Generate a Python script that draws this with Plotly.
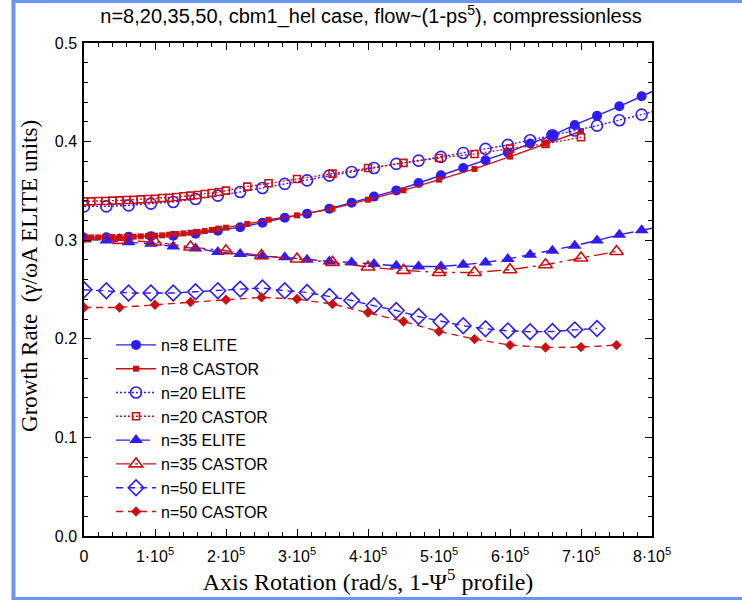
import plotly.graph_objects as go

# ---------------- data ----------------
elite_x = [0, 31416, 62832, 94248, 125664, 157080, 188496, 219911, 251327, 282743,
           314159, 345575, 376991, 408407, 439823, 471239, 502655, 534071, 565487,
           596903, 628319, 659734, 691150, 722566, 753982, 785398, 816814]

castor_x_a = [0, 10000, 20000, 30000, 40000, 50000, 60000, 70000, 80000, 90000, 100000,
              110000, 120000, 130000, 140000, 150000, 160000, 170000, 180000, 190000,
              200000, 230000, 260000, 300000, 350000, 400000, 450000, 500000, 550000,
              600000, 650000, 700000]

castor_x_b = [0, 50000, 100000, 150000, 200000, 250000, 300000, 350000, 400000, 450000,
              500000, 550000, 600000, 650000, 700000, 750000]

n8_elite = [0.3025, 0.3030, 0.3036, 0.3041, 0.3046, 0.3066, 0.3096, 0.3132, 0.3178,
            0.3228, 0.3269, 0.3320, 0.3381, 0.3442, 0.3505, 0.3580, 0.3658, 0.3733,
            0.3810, 0.3891, 0.3980, 0.4064, 0.4169, 0.4261, 0.4358, 0.4460, 0.4561]

n8_castor = [0.3025, 0.3028, 0.3028, 0.3030, 0.3032, 0.3032, 0.3034, 0.3036, 0.3039,
             0.3043, 0.3046, 0.3049, 0.3056, 0.3063, 0.3069, 0.3076, 0.3083, 0.3093,
             0.3104, 0.3117, 0.3127, 0.3165, 0.3208, 0.3252, 0.3320, 0.3411, 0.3506,
             0.3614, 0.3723, 0.3848, 0.3980, 0.4105]

n20_elite = [0.3343, 0.3343, 0.3353, 0.3371, 0.3388, 0.3418, 0.3452, 0.3489, 0.3530,
             0.3571, 0.3607, 0.3655, 0.3692, 0.3733, 0.3774, 0.3807, 0.3845, 0.3885,
             0.3926, 0.3967, 0.4013, 0.4064, 0.4112, 0.4162, 0.4216, 0.4274, 0.4335]

n20_castor = [0.3394, 0.3394, 0.3398, 0.3398, 0.3401, 0.3404, 0.3408, 0.3411, 0.3414,
              0.3418, 0.3421, 0.3428, 0.3431, 0.3438, 0.3445, 0.3452, 0.3458, 0.3469,
              0.3479, 0.3489, 0.3503, 0.3543, 0.3577, 0.3621, 0.3675, 0.3733, 0.3784,
              0.3834, 0.3875, 0.3929, 0.3977, 0.4044]

n35_elite = [0.3012, 0.2998, 0.2978, 0.2964, 0.2937, 0.2917, 0.2880, 0.2860, 0.2836,
             0.2826, 0.2802, 0.2785, 0.2775, 0.2758, 0.2741, 0.2734, 0.2734, 0.2751,
             0.2775, 0.2809, 0.2853, 0.2893, 0.2944, 0.2998, 0.3056, 0.3100, 0.3145]

n35_castor = [0.3015, 0.2998, 0.2982, 0.2931, 0.2893, 0.2843, 0.2809, 0.2775, 0.2728,
              0.2694, 0.2673, 0.2673, 0.2701, 0.2751, 0.2819, 0.2886]

n50_elite = [0.2497, 0.2487, 0.2464, 0.2464, 0.2464, 0.2477, 0.2487, 0.2504, 0.2515,
             0.2487, 0.2470, 0.2430, 0.2389, 0.2335, 0.2287, 0.2226, 0.2176, 0.2132,
             0.2102, 0.2081, 0.2071, 0.2074, 0.2091, 0.2105]

n50_castor = [0.2318, 0.2318, 0.2345, 0.2373, 0.2396, 0.2420, 0.2403, 0.2352, 0.2267,
              0.2176, 0.2074, 0.1997, 0.1936, 0.1912, 0.1916, 0.1936]

x_tickvals = [0, 100000, 200000, 300000, 400000, 500000, 600000, 700000, 800000]
x_ticktext = ["0", "1·10<sup>5</sup>", "2·10<sup>5</sup>", "3·10<sup>5</sup>",
              "4·10<sup>5</sup>", "5·10<sup>5</sup>", "6·10<sup>5</sup>",
              "7·10<sup>5</sup>", "8·10<sup>5</sup>"]

# ---------------- styles ----------------
BLUE = "#2f1cf5"
RED = "#cc1010"
SANS = "Liberation Sans, Arial, sans-serif"
SERIF = "Liberation Serif, Times New Roman, serif"

series = [
    ("n=8 ELITE", elite_x, n8_elite, BLUE, "solid", "circle", 10),
    ("n=8 CASTOR", castor_x_a, n8_castor, RED, "solid", "square", 6),
    ("n=20 ELITE", elite_x, n20_elite, BLUE, "2px,2px", "circle-open", 11),
    ("n=20 CASTOR", castor_x_a, n20_castor, RED, "2px,2px", "square-open", 7),
    ("n=35 ELITE", elite_x, n35_elite, BLUE, "14px,6px", "triangle-up", 12),
    ("n=35 CASTOR", castor_x_b, n35_castor, RED, "14px,5px,3px,5px", "triangle-up-open", 12),
    ("n=50 ELITE", elite_x[:len(n50_elite)], n50_elite, BLUE, "7px,5px", "diamond-open", 12),
    ("n=50 CASTOR", castor_x_b, n50_castor, RED, "7px,5px", "diamond", 8),
]

fig = go.Figure()
for name, xs, ys, col, dash, sym, sz in series:
    fig.add_trace(go.Scatter(
        x=xs, y=ys, name=name, mode="lines+markers",
        line=dict(color=col, width=1.4, dash=dash),
        marker=dict(symbol=sym, size=sz, color=col,
                    line=dict(color=col, width=1.6 if "open" in sym else 0)),
        cliponaxis=True,
    ))

PL, PR, PT, PB = 84, 651.7, 43, 536
W, H = 742, 600

def px2x(p):
    return (p - PL) / (PR - PL)

def px2y(p):
    return (PB - p) / (PB - PT)

fig.update_layout(
    width=W, height=H,
    margin=dict(l=PL, r=W - PR, t=PT, b=H - PB, pad=0),
    paper_bgcolor="white", plot_bgcolor="white",
    showlegend=True,
    legend=dict(x=px2x(111), y=px2y(328), xanchor="left", yanchor="top",
                font=dict(family=SANS, size=16, color="black"),
                bgcolor="rgba(0,0,0,0)", itemwidth=40, tracegroupgap=0),
    title=dict(text="n=8,20,35,50, cbm1_hel case, flow~(1-ps<sup>5</sup>), compressionless",
               x=0.5, xref="container", xanchor="center",
               y=1 - 16 / H, yref="container", yanchor="middle",
               font=dict(family=SANS, size=20, color="black")),
    xaxis=dict(range=[0, 800000], showgrid=False, zeroline=False,
               showline=True, linecolor="black", linewidth=1.5, mirror="allticks",
               ticks="inside", ticklen=7, tickwidth=1.2, tickcolor="black",
               tickvals=x_tickvals, ticktext=x_ticktext, ticklabelstandoff=5,
               tickfont=dict(family=SANS, size=16, color="black"),
               minor=dict(dtick=20000, ticks="inside", ticklen=4, tickwidth=1, tickcolor="black"),
               title=dict(text="Axis Rotation (rad/s, 1-Ψ<sup>5</sup> profile)",
                          font=dict(family=SERIF, size=24, color="black"), standoff=6)),
    yaxis=dict(range=[0, 0.5], showgrid=False, zeroline=False,
               showline=True, linecolor="black", linewidth=1.5, mirror="allticks",
               ticks="inside", ticklen=7, tickwidth=1.2, tickcolor="black",
               dtick=0.1, tickformat=".1f", ticklabelstandoff=2,
               tickfont=dict(family=SANS, size=16, color="black"),
               minor=dict(dtick=0.02, ticks="inside", ticklen=4, tickwidth=1, tickcolor="black")),
    annotations=[dict(text="Growth Rate  (γ/ωA ELITE units)", textangle=-90,
                      x=px2x(29), y=px2y(276), xref="paper", yref="paper",
                      xanchor="center", yanchor="middle", showarrow=False,
                      font=dict(family=SERIF, size=23, color="black"))],
    shapes=[
        dict(type="line", xref="paper", yref="paper", x0=px2x(13.5), x1=px2x(13.5),
             y0=px2y(0), y1=px2y(600), line=dict(color="#6a94f0", width=4), layer="above"),
        dict(type="line", xref="paper", yref="paper", x0=px2x(12), x1=px2x(742),
             y0=px2y(1.5), y1=px2y(1.5), line=dict(color="#6a94f0", width=3), layer="above"),
        dict(type="line", xref="paper", yref="paper", x0=px2x(12), x1=px2x(742),
             y0=px2y(598.5), y1=px2y(598.5), line=dict(color="#6a94f0", width=3), layer="above"),
    ],
)

fig.write_html("out.html")
